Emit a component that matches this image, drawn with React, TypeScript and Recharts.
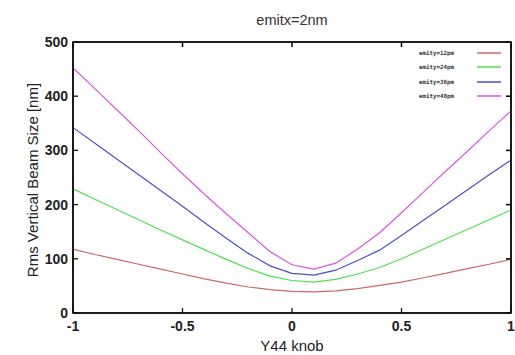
import React from 'react';
import { LineChart, Line, XAxis, YAxis, ReferenceArea } from 'recharts';

const knob = [-1, -0.9, -0.8, -0.7, -0.6, -0.5, -0.4, -0.3, -0.2, -0.1, 0, 0.1, 0.2, 0.3, 0.4, 0.5, 0.6, 0.7, 0.8, 0.9, 1];
const emity12 = [118, 108, 99, 90, 81, 72, 63, 55, 48, 43, 40, 39, 41, 45, 51, 57, 65, 73, 82, 90, 99];
const emity24 = [229, 210, 191, 172, 153, 135, 117, 99, 82, 68, 60, 57, 62, 72, 84, 100, 118, 136, 154, 172, 190];
const emity36 = [342, 313, 284, 255, 226, 197, 167, 138, 110, 87, 73, 70, 79, 97, 116, 143, 171, 199, 227, 255, 282];
const emity48 = [452, 414, 375, 336, 296, 257, 219, 183, 148, 113, 89, 81, 92, 118, 148, 185, 223, 261, 298, 336, 373];
const xTicks = [-1, -0.5, 0, 0.5, 1];
const yTicks = [0, 100, 200, 300, 400, 500];

const seriesNames = ['emity=12pm', 'emity=24pm', 'emity=36pm', 'emity=48pm'];
const seriesKeys = ['e12', 'e24', 'e36', 'e48'];
const seriesColors = ['#d06868', '#4fdf4f', '#5050c0', '#dd55dd'];

const data = knob.map((x, i) => ({
  x,
  e12: emity12[i],
  e24: emity24[i],
  e36: emity36[i],
  e48: emity48[i],
}));

const FONT = '"Liberation Sans", Arial, sans-serif';
const TICK = 5;

const BottomTick = (props: any) => {
  const { x, y, payload } = props;
  const axisY = y - 8;
  return (
    <g>
      <line x1={x} x2={x} y1={axisY} y2={axisY - TICK} stroke="#111" strokeWidth={1.3} />
      <text x={x} y={y} dy="0.71em" textAnchor="middle" fontFamily={FONT} fontWeight="bold" fontSize={14} fill="#222">
        {payload.value}
      </text>
    </g>
  );
};

const LeftTick = (props: any) => {
  const { x, y, payload } = props;
  const axisX = x + 5;
  return (
    <g>
      <line x1={axisX} x2={axisX + TICK} y1={y} y2={y} stroke="#111" strokeWidth={1.3} />
      <text x={x} y={y} dy="0.355em" textAnchor="end" fontFamily={FONT} fontWeight="bold" fontSize={14} fill="#222">
        {payload.value}
      </text>
    </g>
  );
};

const ChartLegend = () => (
  <div style={{ position: 'absolute', top: 46, right: 14, display: 'flex', flexDirection: 'column' }}>
    {seriesNames.map((n, i) => (
      <div key={n} style={{ display: 'flex', alignItems: 'center', justifyContent: 'flex-end', height: 14.3 }}>
        <span
          style={{
            fontFamily: '"DejaVu Sans Mono", monospace',
            fontSize: 5.8,
            color: '#333',
            lineHeight: '8px',
            fontWeight: 'bold',
          }}
        >
          {n}
        </span>
        <span
          style={{
            display: 'inline-block',
            width: 24,
            height: 2,
            background: seriesColors[i],
            marginLeft: 23,
            opacity: 0.75,
          }}
        />
      </div>
    ))}
  </div>
);

export default function App() {
  return (
    <div style={{ position: 'absolute', left: 0, top: 0 }}>
      <LineChart width={515} height={355} data={data} margin={{ top: 40, right: 2, bottom: 0, left: 0 }}>
        <XAxis
          dataKey="x"
          type="number"
          domain={[-1, 1]}
          ticks={xTicks}
          height={42}
          tickSize={0}
          tickMargin={8}
          tick={<BottomTick />}
          axisLine={{ stroke: '#111', strokeWidth: 1.6 }}
          tickLine={false}
          interval={0}
        />
        <XAxis
          xAxisId="top"
          dataKey="x"
          type="number"
          orientation="top"
          domain={[-1, 1]}
          ticks={xTicks}
          height={2}
          stroke="#111"
          strokeWidth={1.6}
          tickSize={-5}
          tickFormatter={() => ''}
        />
        <YAxis
          type="number"
          domain={[0, 500]}
          ticks={yTicks}
          width={73}
          tickSize={0}
          tickMargin={5}
          tick={<LeftTick />}
          axisLine={{ stroke: '#111', strokeWidth: 1.6 }}
          tickLine={false}
          interval={0}
        />
        <YAxis
          yAxisId="right"
          orientation="right"
          type="number"
          domain={[0, 500]}
          ticks={yTicks}
          width={2}
          stroke="#111"
          strokeWidth={1.6}
          tickSize={-5}
          tickFormatter={() => ''}
        />
        <ReferenceArea x1={-1} x2={1} y1={0} y2={500} fill="none" stroke="#111" strokeWidth={1.6} />
        <Line
          xAxisId="top"
          yAxisId="right"
          dataKey="e12"
          stroke="#d06868"
          strokeOpacity={0}
          dot={false}
          isAnimationActive={false}
        />
        {seriesKeys.map((k, i) => (
          <Line
            key={k}
            dataKey={k}
            name={seriesNames[i]}
            stroke={seriesColors[i]}
            strokeWidth={1.2}
            dot={false}
            isAnimationActive={false}
          />
        ))}
      </LineChart>
      <div
        style={{
          position: 'absolute',
          left: 192,
          top: 10,
          width: 200,
          textAlign: 'center',
          fontFamily: FONT,
          fontSize: 14.5,
          color: '#333',
          lineHeight: '20px',
        }}
      >
        emitx=2nm
      </div>
      <div
        style={{
          position: 'absolute',
          left: 192,
          top: 337,
          width: 200,
          textAlign: 'center',
          fontFamily: FONT,
          fontSize: 15,
          color: '#222',
          lineHeight: '18px',
        }}
      >
        Y44 knob
      </div>
      <div
        style={{
          position: 'absolute',
          left: 33 - 120,
          top: 180 - 9,
          width: 240,
          height: 18,
          textAlign: 'center',
          fontFamily: FONT,
          fontSize: 15,
          color: '#222',
          lineHeight: '18px',
          transform: 'rotate(-90deg)',
          whiteSpace: 'nowrap',
        }}
      >
        Rms Vertical Beam Size [nm]
      </div>
      <ChartLegend />
    </div>
  );
}
